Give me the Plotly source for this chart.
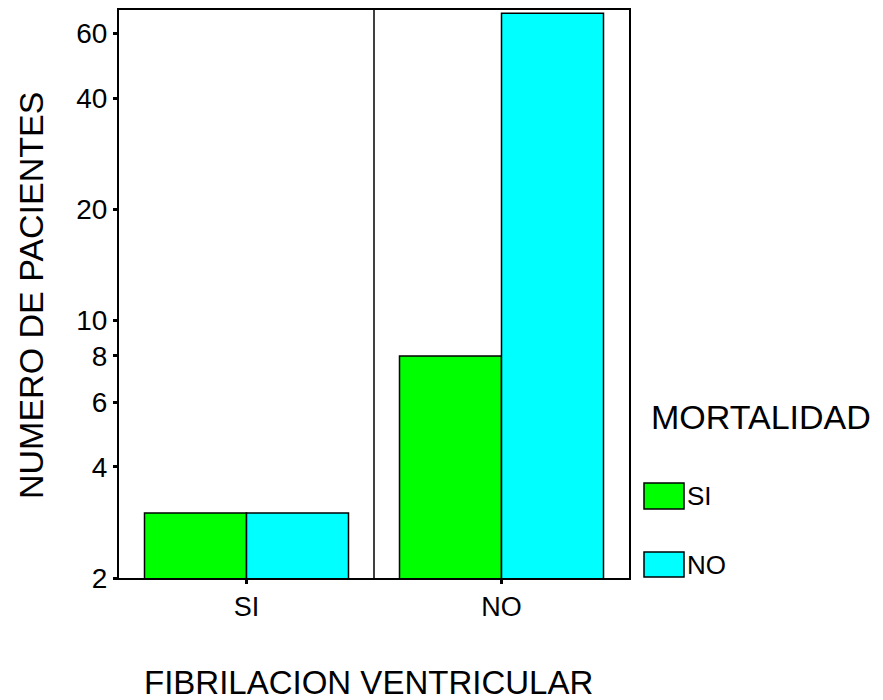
import plotly.graph_objects as go
import math

# ---- data ----
categories = ["SI", "NO"]            # FIBRILACION VENTRICULAR
series_names = ["SI", "NO"]          # MORTALIDAD
series_colors = ["#00FF00", "#00FFFF"]
mort_si = [3, 8]
mort_no = [3, 68]
y_tickvals = [2, 4, 6, 8, 10, 20, 40, 60]
y_ticktext = ["2", "4", "6", "8", "10", "20", "40", "60"]

OFF = 8  # page body margin
W, H = 883 - OFF, 700 - OFF
# plot area in screenshot pixels
L, R, T, B = 119, 629, 10, 578
pw, ph = R - L, B - T

def px(x):
    return (x - L) / pw

def py(y):
    return (B - y) / ph

FONT = "Liberation Sans, Arial, sans-serif"

fig = go.Figure()
for name, vals, col in zip(series_names, [mort_si, mort_no], series_colors):
    fig.add_trace(go.Bar(
        x=categories, y=vals, name=name,
        marker=dict(color=col, line=dict(color="black", width=1.5)),
        showlegend=False,
    ))

shapes = [
    dict(type="line", xref="x", yref="paper", x0=0.5, x1=0.5, y0=0, y1=1,
         line=dict(color="black", width=1.5)),
]
annotations = [
    dict(text="NUMERO DE PACIENTES", xref="paper", yref="paper",
         x=px(31), y=py(296), textangle=-90, showarrow=False,
         xanchor="center", yanchor="middle",
         font=dict(family=FONT, size=34, color="black")),
    dict(text="FIBRILACION VENTRICULAR", xref="paper", yref="paper",
         x=px(368), y=py(682), showarrow=False,
         xanchor="center", yanchor="middle",
         font=dict(family=FONT, size=33, color="black")),
    dict(text="MORTALIDAD", xref="paper", yref="paper",
         x=px(761), y=py(417), showarrow=False,
         xanchor="center", yanchor="middle",
         font=dict(family=FONT, size=34, color="black")),
]
# manual legend
leg_rows = [(483, 509), (552, 577)]
for (y0, y1), name, col in zip(leg_rows, series_names, series_colors):
    shapes.append(dict(type="rect", xref="paper", yref="paper",
                       x0=px(644), x1=px(684), y0=py(y1), y1=py(y0),
                       fillcolor=col, line=dict(color="black", width=1.5)))
    annotations.append(dict(text=name, xref="paper", yref="paper",
                            x=px(685), y=py((y0 + y1) / 2), showarrow=False,
                            xanchor="left", yanchor="middle",
                            font=dict(family=FONT, size=26, color="black")))

fig.update_layout(
    width=W, height=H,
    margin=dict(l=L - OFF, r=W - (R - OFF), t=T - OFF, b=H - (B - OFF),
                autoexpand=False),
    plot_bgcolor="white", paper_bgcolor="white",
    barmode="group", bargap=0.2, bargroupgap=0,
    font=dict(family=FONT, color="black"),
    shapes=shapes, annotations=annotations,
)
fig.update_xaxes(
    type="category", range=[-0.5, 1.5],
    showline=True, linecolor="black", linewidth=2, mirror=True,
    ticks="outside", ticklen=4, tickwidth=3, tickcolor="black",
    showgrid=False, tickfont=dict(family=FONT, size=27, color="black"),
)
fig.update_yaxes(
    type="log", range=[math.log10(2), math.log10(69.4)],
    tickvals=y_tickvals, ticktext=y_ticktext,
    showline=True, linecolor="black", linewidth=2, mirror=True,
    ticks="outside", ticklen=4, tickwidth=3, tickcolor="black",
    showgrid=False, zeroline=False,
    tickfont=dict(family=FONT, size=28, color="black"),
)
fig.write_html("out.html")
